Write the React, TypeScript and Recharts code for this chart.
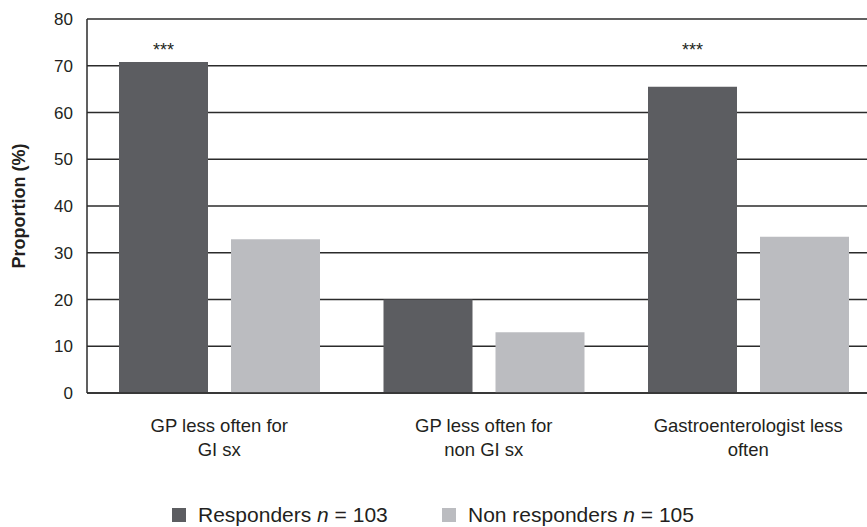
import { Bar, BarChart, CartesianGrid, LabelList, Legend, XAxis, YAxis } from "recharts";

const categories = [
  "GP less often for\nGI sx",
  "GP less often for\nnon GI sx",
  "Gastroenterologist less\noften",
];
const responders = [70.8, 20.0, 65.5];
const nonResponders = [32.9, 13.0, 33.4];
const significance = ["***", "", "***"];
const starLevel = 72;
const yTicks = [0, 10, 20, 30, 40, 50, 60, 70, 80];

const DARK = "#5c5d61";
const LIGHT = "#bbbcc0";
const INK = "#231f20";
const FONT = "'Liberation Sans', Arial, Helvetica, sans-serif";

const data = categories.map((category, i) => ({
  category,
  responders: responders[i],
  nonResponders: nonResponders[i],
}));

function CategoryTick(props: any) {
  const { x, y, payload } = props;
  const lines = String(payload.value).split("\n");
  return (
    <text x={x} y={y} textAnchor="middle" fill={INK} fontSize={18.5} fontFamily={FONT}>
      {lines.map((line, i) => (
        <tspan key={i} x={x} dy={i === 0 ? 31 : 24}>
          {line}
        </tspan>
      ))}
    </text>
  );
}

function StarLabel(props: any) {
  const { x, y, width, height, value, index } = props;
  const mark = significance[index];
  if (!mark || !value) return null;
  // stars sit at a fixed value level, worked out from the bar's own scale
  const base = y + height;
  const perUnit = height / value;
  return (
    <text x={x + width / 2} y={base - starLevel * perUnit} textAnchor="middle" fill={INK} fontSize={18} fontFamily={FONT}>
      {mark}
    </text>
  );
}

function LegendContent() {
  const items = [
    { color: DARK, name: "Responders", n: 103 },
    { color: LIGHT, name: "Non responders", n: 105 },
  ];
  return (
    <div style={{ display: "flex", alignItems: "center", height: 34, paddingTop: 5, paddingLeft: 172, fontFamily: FONT, fontSize: 21, color: INK }}>
      {items.map((it) => (
        <div key={it.name} style={{ display: "flex", alignItems: "center", width: 270 }}>
          <span style={{ width: 14, height: 14, background: it.color, marginRight: 12, display: "inline-block" }} />
          <span>
            {it.name} <i>n</i> = {it.n}
          </span>
        </div>
      ))}
    </div>
  );
}

export default function App() {
  return (
    <div style={{ position: "absolute", left: 0, top: 0, width: 867, height: 527, overflow: "hidden", background: "#fff" }}>
      <BarChart
        width={900}
        height={527}
        data={data}
        margin={{ top: 19, right: 19.5, left: 0, bottom: 0 }}
        barSize={89}
        barGap={23}
      >
        <CartesianGrid vertical={false} stroke="#2b2b2b" strokeWidth={1.5} />
        <XAxis
          dataKey="category"
          interval={0}
          tickLine={false}
          axisLine={{ stroke: "#2b2b2b", strokeWidth: 1.5 }}
          height={100}
          tick={<CategoryTick />}
        />
        <YAxis
          domain={[0, 80]}
          ticks={yTicks}
          width={87}
          tickLine={false}
          tickMargin={8}
          axisLine={{ stroke: "#2b2b2b", strokeWidth: 1.5 }}
          tick={{ fill: INK, fontSize: 17, fontFamily: FONT }}
          label={{
            value: "Proportion (%)",
            angle: -90,
            position: "insideLeft",
            offset: 19,
            style: { textAnchor: "middle", fontWeight: "bold", fontSize: 18, fontFamily: FONT, fill: INK },
          }}
        />
        <Legend verticalAlign="bottom" height={34} content={<LegendContent />} />
        <Bar dataKey="responders" fill={DARK} isAnimationActive={false}>
          <LabelList dataKey="responders" content={<StarLabel />} />
        </Bar>
        <Bar dataKey="nonResponders" fill={LIGHT} isAnimationActive={false} />
      </BarChart>
    </div>
  );
}
